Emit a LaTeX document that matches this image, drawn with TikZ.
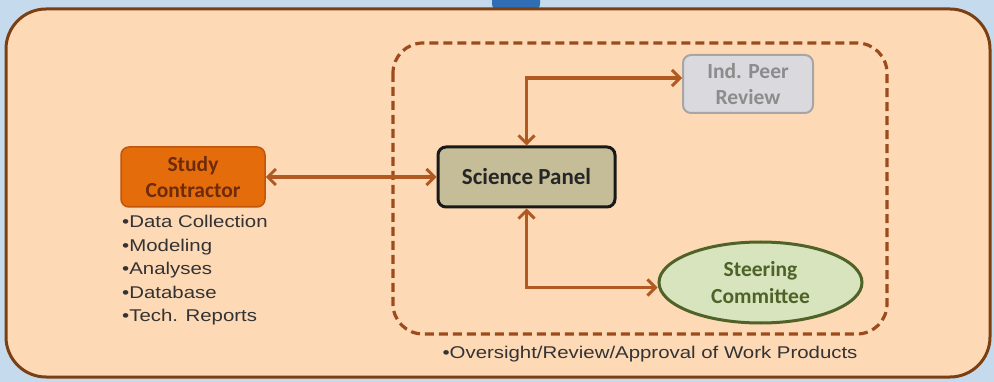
\documentclass[tikz,border=0pt]{standalone}
\usepackage{fontspec}
\setmainfont{Liberation Sans}
\newfontfamily\lblfont{Carlito}
\newfontfamily\listfont[FakeStretch=1.2]{Liberation Sans}
\usetikzlibrary{arrows.meta,shapes.geometric,positioning}
\definecolor{bgblue}{HTML}{C6DAEE}
\definecolor{peach}{HTML}{FDD9B6}
\definecolor{outerbrown}{HTML}{7B3F12}
\definecolor{dashbrown}{HTML}{9C4C1C}
\definecolor{arrbrown}{HTML}{B05A22}
\definecolor{orangefill}{HTML}{E46C0A}
\definecolor{orangedraw}{HTML}{C0560E}
\definecolor{orangetext}{HTML}{6E2B0A}
\definecolor{tanfill}{HTML}{C4BD97}
\definecolor{greyfill}{HTML}{D9D9DE}
\definecolor{greydraw}{HTML}{A6A6A6}
\definecolor{greytext}{HTML}{8C8C8C}
\definecolor{greenfill}{HTML}{D7E4BD}
\definecolor{greendraw}{HTML}{4F6228}
\definecolor{topblue}{HTML}{2F6EB5}
\tikzset{
  lbl/.style={font=\lblfont\bfseries\fontsize{21.5}{26.5}\selectfont, align=center, inner sep=0pt},
  boxnode/.style={lbl, rectangle, rounded corners=8pt, minimum width=#1},
  arr/.style={draw=arrbrown, line width=3.4pt, {Straight Barb[length=8pt,width=16pt,line width=3pt]}-{Straight Barb[length=8pt,width=16pt,line width=3pt]}},
  listtext/.style={font=\listfont\fontsize{17}{23.5}\selectfont, align=left, inner sep=0pt, text=black!80}
}
\begin{document}
\begin{tikzpicture}[x=1pt,y=-1pt]
\useasboundingbox (0,0) rectangle (994,382);
\fill[bgblue] (0,0) rectangle (994,382);
\fill[topblue, rounded corners=6pt] (492,-12) rectangle (540,10);
\draw[outerbrown, fill=peach, line width=3pt, rounded corners=40pt] (6,9) rectangle (990,377);
\draw[dashbrown, line width=3.2pt, dash pattern=on 9pt off 5pt, rounded corners=30pt] (393,43) rectangle (887,334);

\node[boxnode=144pt, minimum height=60pt, fill=orangefill, draw=orangedraw, line width=1.5pt, text=orangetext] (sc) at (193,177) {Study\\Contractor};
\node[boxnode=177pt, minimum height=60pt, fill=tanfill, draw=black!90, line width=3pt, text=black!85, font=\lblfont\bfseries\fontsize{23}{27}\selectfont] (sp) at (526.5,177) {Science Panel};
\node[boxnode=130pt, minimum height=58pt, fill=greyfill, draw=greydraw, line width=2pt, text=greytext] (pr) at (748,84) {Ind. Peer\\Review};
\node[lbl, ellipse, minimum width=203pt, minimum height=81pt, fill=greenfill, draw=greendraw, line width=3pt, text=greendraw] (stc) at (760.5,282.5) {Steering\\Committee};

\node[listtext, anchor=north west] (lst) at (122,215) {•Data Collection\\•Modeling\\•Analyses\\•Database\\•Tech. Reports};
\node[listtext] (ovr) at (650,354) {•Oversight/Review/Approval of Work Products};

\coordinate (prin) at ([yshift=6pt]pr.west);
\coordinate (stin) at ([yshift=-5pt]stc.west);
\draw[arr] (sc.east) -- (sp.west);
\draw[arr] (sp.north) |- (prin);
\draw[arr] (sp.south) |- (stin);
\end{tikzpicture}
\end{document}
